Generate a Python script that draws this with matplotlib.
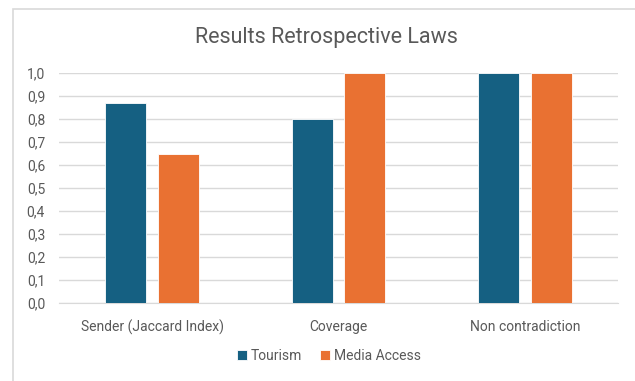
import numpy as np
import matplotlib.pyplot as plt
from matplotlib.patches import Rectangle

# Data
categories = ['Sender (Jaccard Index)', 'Coverage', 'Non contradiction']
tourism = [0.87, 0.80, 1.0]
media_access = [0.65, 1.0, 1.0]
yticks = [0.0, 0.1, 0.2, 0.3, 0.4, 0.5, 0.6, 0.7, 0.8, 0.9, 1.0]

plt.rcParams['font.family'] = ['Roboto', 'DejaVu Sans']

fig = plt.figure(figsize=(6.35, 3.81), dpi=100)
ax = fig.add_axes([59 / 635, 1 - 303 / 381, (618 - 59) / 635, (303 - 73) / 381])

# Chart border (cropped screenshot style)
fig.patches.append(Rectangle((13 / 635, -0.1), 1.2, 1 - 9 / 381 + 0.1,
                             transform=fig.transFigure, fill=False,
                             edgecolor='#d9d9d9', lw=1.2))

x = np.arange(len(categories))
w = 0.22
off = 0.142
ax.bar(x - off, tourism, w, color='#156082', edgecolor='white', lw=0.6,
       label='Tourism', zorder=3)
ax.bar(x + off, media_access, w, color='#E97132', edgecolor='white', lw=0.6,
       label='Media Access', zorder=3)

ax.set_xlim(-0.5, len(categories) - 0.5)
ax.set_ylim(0, 1.0)
ax.set_yticks(yticks)
ax.set_yticklabels([f'{v:.1f}'.replace('.', ',') for v in yticks])
ax.set_xticks(x)
ax.set_xticklabels(categories)
ax.tick_params(axis='both', length=0, labelsize=10, colors='#595959')
ax.tick_params(axis='x', pad=12)
ax.tick_params(axis='y', pad=10)
ax.grid(axis='y', color='#d9d9d9', lw=1, zorder=0)
ax.set_axisbelow(True)
for s in ['top', 'right', 'left']:
    ax.spines[s].set_visible(False)
ax.spines['bottom'].set_color('#d9d9d9')

fig.text(326 / 635, 1 - 38 / 381, 'Results Retrospective Laws', ha='center',
         va='center', fontsize=15.5, color='#595959')

fig.legend(loc='center', bbox_to_anchor=(329 / 635, 1 - 356 / 381), ncol=2,
           frameon=False, fontsize=10, handlelength=0.7, handleheight=0.7,
           handletextpad=0.3, columnspacing=1.3, labelcolor='#595959')

fig.savefig('out.png', dpi=100)
